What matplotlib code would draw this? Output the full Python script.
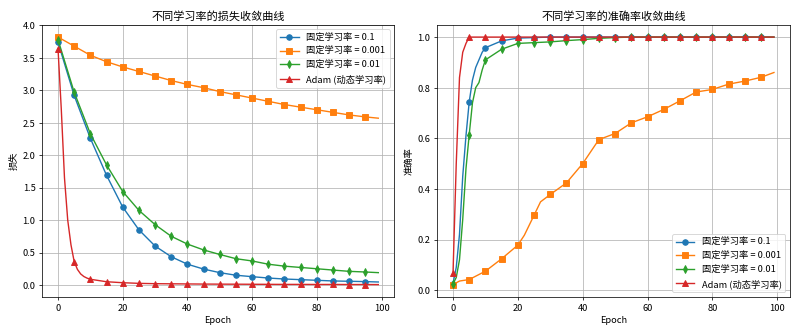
import matplotlib
matplotlib.use("Agg")
import matplotlib.pyplot as plt

plt.rcParams['font.family'] = ['Noto Sans CJK SC', 'DejaVu Sans']
plt.rcParams['axes.unicode_minus'] = False

# ---- data ----
labels = ['固定学习率 = 0.1', '固定学习率 = 0.001', '固定学习率 = 0.01', 'Adam (动态学习率)']
colors = ['#1f77b4', '#ff7f0e', '#2ca02c', '#d62728']
markers = ['o', 's', 'd', '^']

ep_std = [0, 5, 10, 15, 20, 25, 30, 35, 40, 45, 50, 55, 60, 65, 70, 75, 80, 85, 90, 95, 99]

loss_lr01 = [3.74, 2.92, 2.26, 1.69, 1.20, 0.85, 0.60, 0.435, 0.32, 0.245, 0.19,
             0.15, 0.128, 0.107, 0.092, 0.082, 0.072, 0.062, 0.057, 0.052, 0.046]
loss_lr0001 = [3.82, 3.68, 3.54, 3.44, 3.36, 3.29, 3.22, 3.15, 3.09, 3.04, 2.98,
               2.93, 2.88, 2.83, 2.78, 2.74, 2.70, 2.66, 2.62, 2.59, 2.57]
loss_lr001 = [3.78, 2.97, 2.33, 1.85, 1.44, 1.15, 0.93, 0.75, 0.63, 0.54, 0.47,
              0.405, 0.37, 0.32, 0.29, 0.27, 0.25, 0.23, 0.21, 0.20, 0.19]
ep_adam_loss = [0, 1, 2, 3, 4, 5, 6, 7, 8, 9, 10, 15, 20, 25, 30, 35, 40, 45, 50,
                55, 60, 65, 70, 75, 80, 85, 90, 95, 99]
loss_adam = [3.64, 2.72, 1.65, 1.00, 0.62, 0.36, 0.24, 0.17, 0.13, 0.105, 0.088,
             0.05, 0.035, 0.025, 0.02, 0.018, 0.016, 0.014, 0.013, 0.012, 0.011,
             0.010, 0.009, 0.009, 0.008, 0.008, 0.007, 0.007, 0.006]

ep_acc_fast = [0, 1, 2, 3, 4, 5, 6, 7, 8, 9, 10, 15, 20, 25, 30, 35, 40, 45, 50,
               55, 60, 65, 70, 75, 80, 85, 90, 95, 99]
acc_lr01 = [0.026, 0.09, 0.22, 0.45, 0.61, 0.744, 0.83, 0.88, 0.91, 0.94, 0.958,
            0.985, 0.996, 0.998, 1.0, 1.0, 1.0, 1.0, 1.0, 1.0, 1.0, 1.0, 1.0, 1.0,
            1.0, 1.0, 1.0, 1.0, 1.0]
acc_lr001 = [0.025, 0.05, 0.12, 0.28, 0.48, 0.615, 0.74, 0.80, 0.82, 0.87, 0.91,
             0.952, 0.975, 0.978, 0.981, 0.986, 0.99, 0.995, 0.998, 1.0, 1.0, 1.0,
             1.0, 1.0, 1.0, 1.0, 1.0, 1.0, 1.0]
ep_adam_acc = [0, 1, 2, 3, 4, 5, 10, 15, 20, 25, 30, 35, 40, 45, 50, 55, 60, 65,
               70, 75, 80, 85, 90, 95, 99]
acc_adam = [0.066, 0.50, 0.84, 0.94, 0.975, 1.0, 1.0, 1.0, 1.0, 1.0, 1.0, 1.0, 1.0,
            1.0, 1.0, 1.0, 1.0, 1.0, 1.0, 1.0, 1.0, 1.0, 1.0, 1.0, 1.0]
ep_acc_slow = [0, 2, 5, 10, 15, 20, 22, 25, 27, 30, 35, 40, 45, 50, 55, 60, 65, 70,
               75, 80, 85, 90, 95, 99]
acc_lr0001 = [0.022, 0.036, 0.042, 0.075, 0.124, 0.178, 0.217, 0.296, 0.349, 0.378,
              0.424, 0.50, 0.595, 0.619, 0.661, 0.685, 0.714, 0.748, 0.783, 0.793,
              0.814, 0.826, 0.841, 0.86]

loss_series = [(ep_std, loss_lr01), (ep_std, loss_lr0001), (ep_std, loss_lr001),
               (ep_adam_loss, loss_adam)]
acc_series = [(ep_acc_fast, acc_lr01), (ep_acc_slow, acc_lr0001),
              (ep_acc_fast, acc_lr001), (ep_adam_acc, acc_adam)]

DPI = 800 / 12
fig = plt.figure(figsize=(12, 5), dpi=DPI)
ax1 = fig.add_axes([0.0525, 0.1081, 0.4404, 0.8168])
ax2 = fig.add_axes([0.5462, 0.1081, 0.4413, 0.8168])


def draw(ax, series, title, ylabel, loc):
    for (ep, vals), lab, c, m in zip(series, labels, colors, markers):
        mk = [i for i, e in enumerate(ep) if e % 5 == 0]
        ax.plot(ep, vals, color=c, marker=m, markevery=mk, label=lab,
                linewidth=1.5, markersize=6)
    ax.set_title(title, fontsize=12)
    ax.set_xlabel('Epoch', fontsize=10)
    ax.set_ylabel(ylabel, fontsize=10)
    ax.grid(True)
    ax.legend(loc=loc, fontsize=10)
    ax.tick_params(labelsize=10)


draw(ax1, loss_series, '不同学习率的损失收敛曲线', '损失', 'upper right')
draw(ax2, acc_series, '不同学习率的准确率收敛曲线', '准确率', 'lower right')

fig.savefig('out.png', dpi=DPI)
